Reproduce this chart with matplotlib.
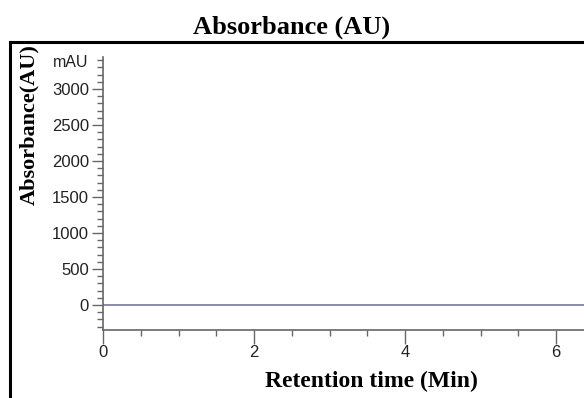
import matplotlib.pyplot as plt
from matplotlib.lines import Line2D
from matplotlib.ticker import MultipleLocator

# Chromatogram trace (flat baseline, no peaks)
retention_time = [0.0, 6.4]
absorbance = [0.0, 0.0]

x_ticks = [0, 2, 4, 6]
y_ticks = [0, 500, 1000, 1500, 2000, 2500, 3000]

fig = plt.figure(figsize=(5.84, 3.98), dpi=100)
ax = fig.add_axes([103 / 584, 1 - 330 / 398, 1 - 103 / 584, (330 - 57) / 398])

ax.plot(retention_time, absorbance, color='#7478a0', lw=1.2)

ax.set_xlim(0, 6.37)
ax.set_ylim(-347, 3444)
ax.set_xticks(x_ticks)
ax.set_yticks(y_ticks)
ax.xaxis.set_minor_locator(MultipleLocator(0.5))
ax.yaxis.set_minor_locator(MultipleLocator(100))

for s in ['top', 'right']:
    ax.spines[s].set_visible(False)
for s in ['left', 'bottom']:
    ax.spines[s].set_color('#666666')
    ax.spines[s].set_linewidth(1.2)

ax.tick_params(axis='both', which='both', color='#666666', labelcolor='#222222',
               labelsize=12, labelfontfamily='Liberation Sans')
ax.tick_params(axis='y', which='major', length=8, width=1, pad=2)
ax.tick_params(axis='y', which='minor', length=4, width=1)
ax.tick_params(axis='x', which='major', length=10, width=1, pad=1)
ax.tick_params(axis='x', which='minor', length=4, width=1)

ax.text(-0.03, 3370, 'mAU', transform=ax.get_yaxis_transform(), ha='right', va='center',
        fontsize=11.5, family='Liberation Sans', color='#222222')

fig.text(0.5, 1 - 27 / 398, 'Absorbance (AU)', ha='center', va='center',
         fontsize=19, fontweight='bold', family='Liberation Serif')
fig.text(371 / 584, 1 - 381 / 398, 'Retention time (Min)', ha='center', va='center',
         fontsize=17, fontweight='bold', family='Liberation Serif')
fig.text(29 / 584, 1 - 125 / 398, 'Absorbance(AU)', ha='center', va='center', rotation=90,
         fontsize=16, fontweight='bold', family='Liberation Serif')

# outer frame lines (top and left)
fig.add_artist(Line2D([10 / 584, 1], [1 - 42 / 398] * 2, color='black', lw=2.2))
fig.add_artist(Line2D([10 / 584] * 2, [0, 1 - 42 / 398], color='black', lw=2.2))

fig.savefig('out.png', dpi=100)
